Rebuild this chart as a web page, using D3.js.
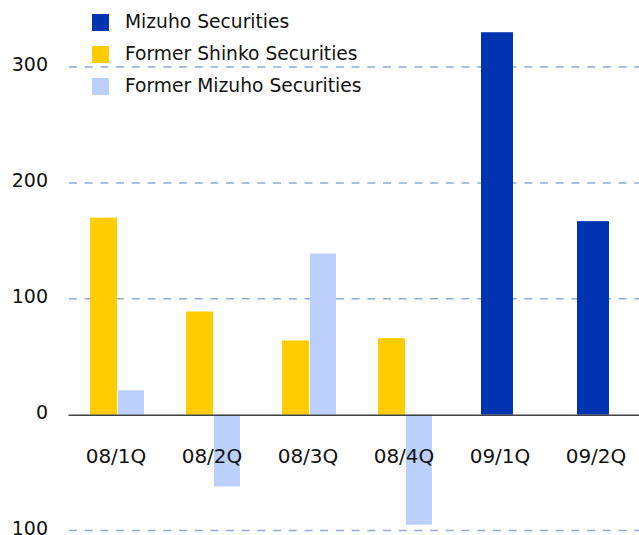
<!DOCTYPE html>
<html>
<head>
<meta charset="utf-8">
<script src="https://cdn.jsdelivr.net/npm/d3@7"></script>
<style>
  body { margin: 0; background: #fff; }
  text { font-family: "DejaVu Sans", sans-serif; fill: #111; }
</style>
</head>
<body>
<div id="chart"></div>
<script>
// data
var categories = ["08/1Q", "08/2Q", "08/3Q", "08/4Q", "09/1Q", "09/2Q"];
var mizuho = [null, null, null, null, 330, 167];
var shinko = [170, 89, 64, 66, null, null];
var formerMizuho = [21, -62, 139, -95, null, null];
var yTicks = [-100, 0, 100, 200, 300];
var seriesNames = ["Mizuho Securities", "Former Shinko Securities", "Former Mizuho Securities"];
var colors = ["#0033b0", "#ffcc00", "#bbd0fd"];

var svgWidth = 639;
var svgHeight = 535;

var svg = d3.select("#chart")
  .append("svg")
  .attr("width", svgWidth)
  .attr("height", svgHeight);

// scales
var xScale = d3.scaleBand()
  .domain(categories)
  .range([68, 644]);

var yScale = d3.scaleLinear()
  .domain([-100, 300])
  .range([530.5, 67]);

var bw = xScale.bandwidth();
var mid = d => xScale(d) + bw / 2;

// gridlines
svg.append("g")
  .selectAll("line")
  .data(yTicks.filter(d => d !== 0))
  .enter()
  .append("line")
  .attr("x1", 69)
  .attr("x2", svgWidth)
  .attr("y1", d => yScale(d))
  .attr("y2", d => yScale(d))
  .attr("stroke", "#93acd0")
  .attr("stroke-width", 1.5)
  .attr("stroke-dasharray", "8,7.7");

// bars
function drawBars(values, color, offset, w) {
  svg.append("g")
    .selectAll("rect")
    .data(categories.map((c, i) => ({cat: c, v: values[i]})).filter(d => d.v !== null))
    .enter()
    .append("rect")
    .attr("x", d => mid(d.cat) + offset)
    .attr("width", w)
    .attr("y", d => yScale(Math.max(0, d.v)))
    .attr("height", d => Math.abs(yScale(d.v) - yScale(0)))
    .attr("fill", color);
}
drawBars(shinko, colors[1], -26, 27);
drawBars(formerMizuho, colors[2], 2, 26);
drawBars(mizuho, colors[0], -19, 32);

// x axis
var bottomAxis = d3.axisBottom(xScale).tickSize(0).tickPadding(34);
var xg = svg.append("g")
  .attr("transform", `translate(0, ${yScale(0)})`)
  .call(bottomAxis);
xg.select(".domain").attr("stroke", "#404040").attr("stroke-width", 1.5);
xg.selectAll("text")
  .style("font-family", "DejaVu Sans, sans-serif")
  .style("font-size", "20px")
  .attr("fill", "#111");

// y axis (negative label shows without sign, as in original)
var leftAxis = d3.axisLeft(yScale)
  .tickValues(yTicks)
  .tickSize(0)
  .tickPadding(20)
  .tickFormat(d => Math.abs(d));
var yg = svg.append("g")
  .attr("transform", "translate(68, 0)")
  .call(leftAxis);
yg.select(".domain").remove();
yg.selectAll("text")
  .attr("dy", "0.2em")
  .style("font-family", "DejaVu Sans, sans-serif")
  .style("font-size", "19px")
  .attr("fill", "#111");

// legend
var legend = svg.append("g")
  .selectAll("g")
  .data(seriesNames)
  .enter()
  .append("g")
  .attr("transform", (d, i) => `translate(92, ${14 + i * 32})`);

legend.append("rect")
  .attr("width", 17)
  .attr("height", 17)
  .attr("fill", (d, i) => colors[i]);

legend.append("text")
  .attr("x", 33)
  .attr("y", 14)
  .style("font-size", "18.7px")
  .text(d => d);
</script>
</body>
</html>
